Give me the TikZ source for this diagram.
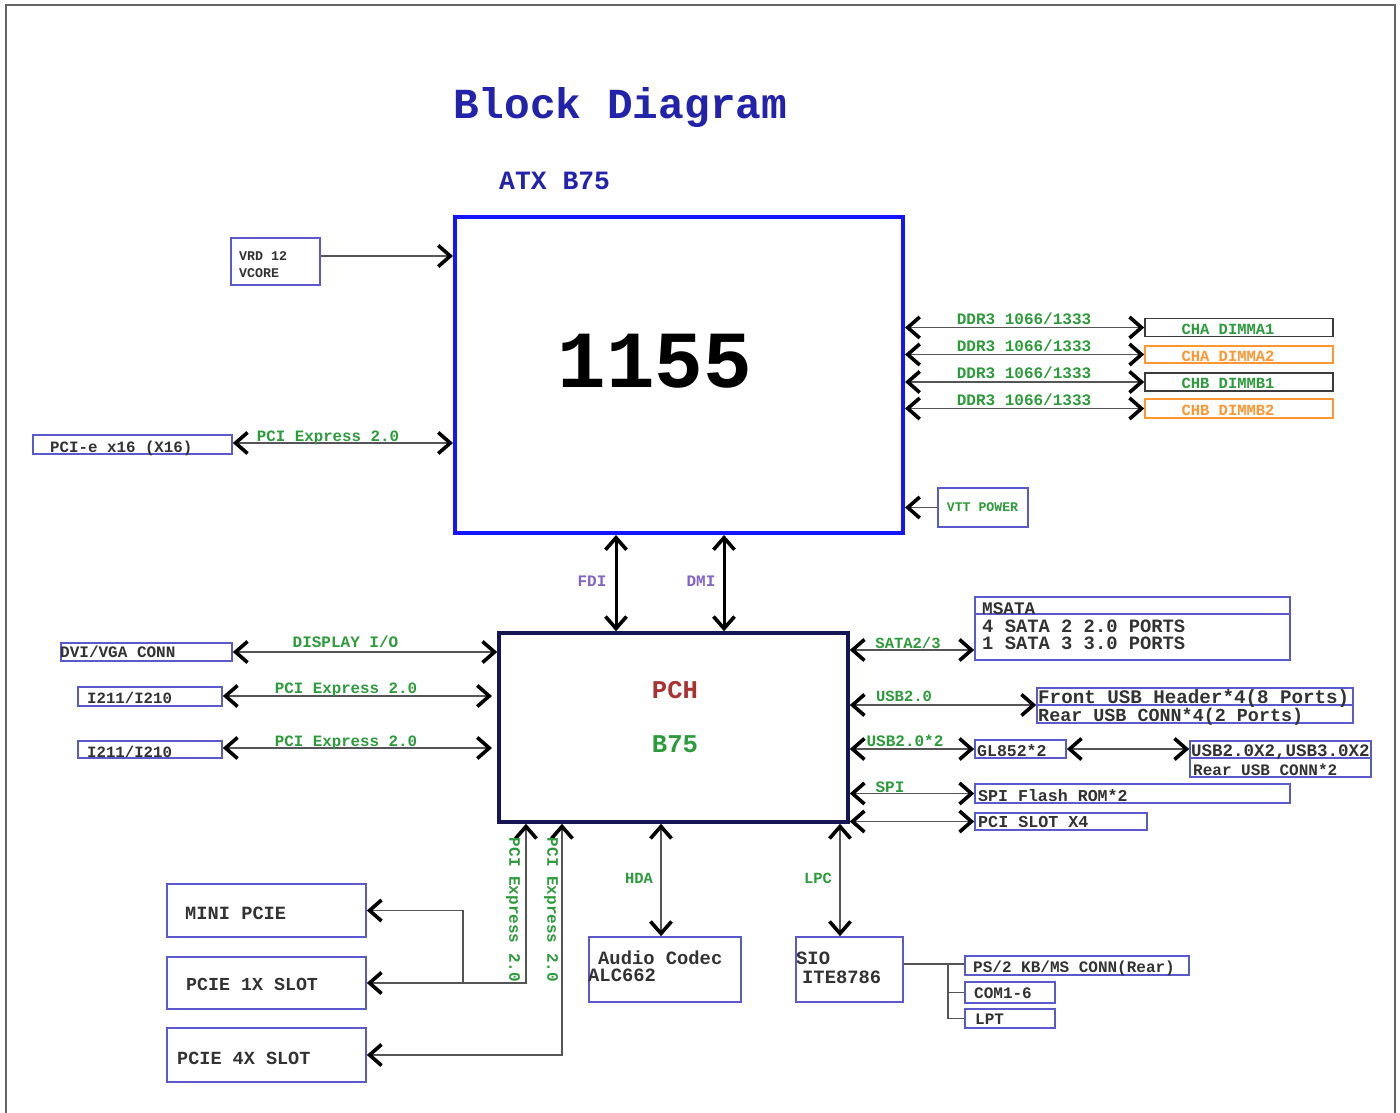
\documentclass[tikz,border=0pt]{standalone}
\usepackage{fontspec}
\setmainfont{Liberation Mono}
\setmonofont{Liberation Mono}
\usetikzlibrary{arrows.meta}
\definecolor{titleblue}{RGB}{34,34,170}
\definecolor{cpublue}{RGB}{20,20,255}
\definecolor{pchnavy}{RGB}{22,22,85}
\definecolor{boxblue}{RGB}{90,90,205}
\definecolor{dimmgray}{RGB}{60,60,60}
\definecolor{lblgreen}{RGB}{45,155,60}
\definecolor{dimorange}{RGB}{255,150,50}
\definecolor{lblpurple}{RGB}{130,100,200}
\definecolor{pchred}{RGB}{170,50,50}
\definecolor{darktext}{RGB}{50,50,50}
\definecolor{linegray}{RGB}{85,85,85}
\definecolor{framegray}{RGB}{100,100,100}
\tikzset{
  cb/.tip={Straight Barb[length=12pt,width=21pt,line width'=3.6pt,color=black]},
  bx/.style={draw=boxblue,line width=1.6pt,inner sep=0pt,rectangle},
  tx/.style={inner sep=0pt,font=\bfseries\fontsize{#1}{#1}\selectfont,text=darktext},
  gl/.style={inner sep=0pt,font=\bfseries\fontsize{#1}{#1}\selectfont,text=lblgreen},
  conn/.style={draw=linegray,line width=1.8pt},
  dbl/.style={conn,{cb}-{cb}},
  sgl/.style={conn,-{cb}},
  thk/.style={draw=black,line width=3pt,{cb}-{cb}},
  plain/.style={conn,line width=1.6pt},
  divl/.style={draw=boxblue,line width=1.4pt}
}
\begin{document}
\begin{tikzpicture}[x=1pt,y=-1pt]
\useasboundingbox (0,0) rectangle (1400,1113);
\fill[white] (0,0) rectangle (1400,1113);
\draw[framegray,line width=2pt] (6,1125) -- (6,5) -- (1395,5) -- (1395,1125);

% titles
\node[anchor=base west,inner sep=0pt,font=\bfseries\fontsize{42.8}{42.8}\selectfont,text=titleblue] (title) at (453,119) {Block Diagram};
\node[anchor=base west,inner sep=0pt,font=\bfseries\fontsize{26.4}{26.4}\selectfont,text=titleblue] (atx) at (499,189) {ATX B75};

% CPU
\node[rectangle,draw=cpublue,line width=4pt,inner sep=0pt,minimum width=448pt,minimum height=316pt] (cpu) at (679,375) {};
\node[anchor=base,inner sep=0pt,font=\bfseries\fontsize{81}{81}\selectfont,text=black] (cpunum) at (655,387) {1155};

% VRD
\node[bx,minimum width=89pt,minimum height=47pt] (vrd) at (275.5,261.5) {};
\node[tx=13.3,anchor=base west] (vrdt1) at (239,260) {VRD 12};
\node[tx=13.3,anchor=base west] (vrdt2) at (239,277) {VCORE};
\coordinate (yvrd) at (0,256);
\draw[sgl] (vrd.east |- yvrd) -- (cpu.west |- yvrd);

% PCI-e x16
\node[bx,minimum width=199pt,minimum height=19pt] (pcie16) at (132.5,444.5) {};
\node[tx=15.8,anchor=base west] (pcie16t) at (50,452) {PCI-e x16 (X16)};
\coordinate (y16) at (0,443);
\draw[dbl] (pcie16.east |- y16) -- (cpu.west |- y16);
\node[gl=15.8,anchor=base] (pcie16l) at (328,441) {PCI Express 2.0};

% DIMMs
\node[bx,draw=dimmgray,minimum width=188pt,minimum height=18pt] (dimm1) at (1239,327.5) {};
\node[bx,draw=dimorange,minimum width=188pt,minimum height=17pt] (dimm2) at (1239,354.5) {};
\node[bx,draw=dimmgray,minimum width=188pt,minimum height=18pt] (dimm3) at (1239,382) {};
\node[bx,draw=dimorange,minimum width=188pt,minimum height=19pt] (dimm4) at (1239,408.5) {};
\node[gl=15.5,anchor=base] (dimm1t) at (1228,334) {CHA DIMMA1};
\node[gl=15.5,anchor=base,text=dimorange] (dimm2t) at (1228,361) {CHA DIMMA2};
\node[gl=15.5,anchor=base] (dimm3t) at (1228,388) {CHB DIMMB1};
\node[gl=15.5,anchor=base,text=dimorange] (dimm4t) at (1228,415) {CHB DIMMB2};
\draw[dbl] (cpu.east |- dimm1.west) -- (dimm1.west);
\draw[dbl] (cpu.east |- dimm2.west) -- (dimm2.west);
\draw[dbl] (cpu.east |- dimm3.west) -- (dimm3.west);
\draw[dbl] (cpu.east |- dimm4.west) -- (dimm4.west);
\node[gl=16,anchor=base] (ddr1) at (1024,324) {DDR3 1066/1333};
\node[gl=16,anchor=base] (ddr2) at (1024,351) {DDR3 1066/1333};
\node[gl=16,anchor=base] (ddr3) at (1024,378) {DDR3 1066/1333};
\node[gl=16,anchor=base] (ddr4) at (1024,405) {DDR3 1066/1333};

% VTT
\node[bx,minimum width=90pt,minimum height=39pt] (vtt) at (983,507.5) {};
\node[gl=13.2,anchor=base] (vttt) at (982.5,511) {VTT POWER};
\draw[sgl] (vtt.west) -- (cpu.east |- vtt.west);

% PCH
\node[rectangle,draw=pchnavy,line width=3.5pt,inner sep=0pt,minimum width=349pt,minimum height=189pt] (pch) at (673.5,727.5) {};
\node[anchor=base,inner sep=0pt,font=\bfseries\fontsize{25.6}{25.6}\selectfont,text=pchred] (pcht) at (675,698) {PCH};
\node[anchor=base,inner sep=0pt,font=\bfseries\fontsize{25.6}{25.6}\selectfont,text=lblgreen] (b75t) at (675,752) {B75};

% FDI / DMI
\coordinate (xfdi) at (616,0);
\coordinate (xdmi) at (724,0);
\draw[thk] (xfdi |- cpu.south) -- (xfdi |- pch.north);
\draw[thk] (xdmi |- cpu.south) -- (xdmi |- pch.north);
\node[gl=16,anchor=base,text=lblpurple] (fdil) at (592,586) {FDI};
\node[gl=16,anchor=base,text=lblpurple] (dmil) at (701,586) {DMI};

% left of PCH
\node[bx,minimum width=171pt,minimum height=18pt] (dvi) at (146.5,652) {};
\node[tx=16,anchor=base west] (dvit) at (60,657) {DVI/VGA CONN};
\draw[dbl] (dvi.east) -- (pch.west |- dvi.east);
\node[gl=16,anchor=base] (displ) at (345.5,647) {DISPLAY I/O};

\node[bx,minimum width=144pt,minimum height=19pt] (i211a) at (150,696.5) {};
\node[tx=15.7,anchor=base west] (i211at) at (87,703) {I211/I210};
\coordinate (ia) at (492,696);
\draw[dbl] (i211a.east |- ia) -- (ia);
\node[gl=15.8,anchor=base] (pciea) at (346,693) {PCI Express 2.0};

\node[bx,minimum width=144pt,minimum height=17pt] (i211b) at (150,749.5) {};
\node[tx=15.7,anchor=base west] (i211bt) at (87,757) {I211/I210};
\coordinate (ib) at (492,748);
\draw[dbl] (i211b.east |- ib) -- (ib);
\node[gl=15.8,anchor=base] (pcieb) at (346,746) {PCI Express 2.0};

% right of PCH
\node[bx,minimum width=315pt,minimum height=63pt] (msata) at (1132.5,628.5) {};
\coordinate (ymsd) at (0,614);
\draw[divl] (msata.west |- ymsd) -- (msata.east |- ymsd);
\node[tx=17.7,anchor=base west] (msatat) at (982,614) {MSATA};
\node[tx=18.8,anchor=base west] (sata2t) at (982,632) {4 SATA 2 2.0 PORTS};
\node[tx=18.8,anchor=base west] (sata3t) at (982,649) {1 SATA 3 3.0 PORTS};
\coordinate (ysata) at (0,650);
\draw[dbl] (pch.east |- ysata) -- (msata.west |- ysata);
\node[gl=15.5,anchor=base] (satal) at (908,648) {SATA2/3};

\node[bx,minimum width=316pt,minimum height=35pt] (usb) at (1195,705.5) {};
\coordinate (yusd) at (0,705);
\draw[divl] (usb.west |- yusd) -- (usb.east |- yusd);
\node[tx=19.2,anchor=base west] (usbt1) at (1038,703) {Front USB Header*4(8 Ports)};
\node[tx=18.4,anchor=base west] (usbt2) at (1038,721) {Rear USB CONN*4(2 Ports)};
\draw[dbl] (pch.east |- yusd) -- (usb.west |- yusd);
\node[gl=15.5,anchor=base] (usbl) at (904,701) {USB2.0};

\node[bx,minimum width=91pt,minimum height=18pt] (glb) at (1020.5,749) {};
\node[tx=16.5,anchor=base west] (glt) at (977,756) {GL852*2};
\draw[dbl] (pch.east |- glb.west) -- (glb.west);
\node[gl=16,anchor=base] (usb2l) at (905,746) {USB2.0*2};

\node[bx,minimum width=181pt,minimum height=36pt] (usb3) at (1280.5,759) {};
\coordinate (yu3d) at (0,758);
\draw[divl] (usb3.west |- yu3d) -- (usb3.east |- yu3d);
\node[tx=17.5,anchor=base west] (usb3t1) at (1191,756) {USB2.0X2,USB3.0X2};
\node[tx=16,anchor=base west] (usb3t2) at (1193,775) {Rear USB CONN*2};
\draw[dbl] (glb.east) -- (usb3.west |- glb.east);

\node[bx,minimum width=315pt,minimum height=19pt] (spi) at (1132.5,793.5) {};
\node[tx=16.6,anchor=base west] (spit) at (978,801) {SPI Flash ROM*2};
\draw[dbl] (pch.east |- spi.west) -- (spi.west);
\node[gl=16,anchor=base] (spil) at (890,792) {SPI};

\node[bx,minimum width=172pt,minimum height=17pt] (pcis) at (1061,821.5) {};
\node[tx=16.7,anchor=base west] (pcist) at (978,827) {PCI SLOT X4};
\draw[dbl] (pch.east |- pcis.west) -- (pcis.west);

% bottom PCIe
\node[bx,minimum width=199pt,minimum height=53pt] (mini) at (266.5,910.5) {};
\node[tx=18.7,anchor=base west] (minit) at (185,919) {MINI PCIE};
\node[bx,minimum width=199pt,minimum height=52pt] (p1x) at (266.5,983) {};
\node[tx=18.3,anchor=base west] (p1xt) at (186,990) {PCIE 1X SLOT};
\node[bx,minimum width=199pt,minimum height=54pt] (p4x) at (266.5,1055) {};
\node[tx=18.5,anchor=base west] (p4xt) at (177,1064) {PCIE 4X SLOT};
\coordinate (xa) at (526,0);
\coordinate (xb) at (562,0);
\coordinate (xbr) at (463,0);
\draw[dbl] (xa |- pch.south) -- (xa |- p1x.east) -- (p1x.east);
\draw[sgl] (xbr |- p1x.east) -- (xbr |- mini.east) -- (mini.east);
\draw[dbl] (xb |- pch.south) -- (xb |- p4x.east) -- (p4x.east);
\node[gl=16,rotate=-90] (pcievl1) at (513,910) {PCI Express 2.0};
\node[gl=16,rotate=-90] (pcievl2) at (551,910) {PCI Express 2.0};

% audio / SIO
\node[bx,minimum width=152pt,minimum height=65pt] (audio) at (665,969.5) {};
\node[tx=18.8,anchor=base west] (audiot1) at (598,964) {Audio Codec};
\node[tx=18.8,anchor=base west] (audiot2) at (588,981) {ALC662};
\coordinate (xhda) at (661,0);
\draw[dbl] (xhda |- pch.south) -- (xhda |- audio.north);
\node[gl=15.5,anchor=base] (hdal) at (639,883) {HDA};

\node[bx,minimum width=107pt,minimum height=65pt] (sio) at (849.5,969.5) {};
\node[tx=18.8,anchor=base west] (siot1) at (796,964) {SIO};
\node[tx=18.8,anchor=base west] (siot2) at (802,983) {ITE8786};
\coordinate (xlpc) at (840,0);
\draw[dbl] (xlpc |- pch.south) -- (xlpc |- sio.north);
\node[gl=15.5,anchor=base] (lpcl) at (818,883) {LPC};

\node[bx,minimum width=224pt,minimum height=19pt] (ps2) at (1077,965.5) {};
\node[tx=16,anchor=base west] (ps2t) at (973,972) {PS/2 KB/MS CONN(Rear)};
\node[bx,minimum width=90pt,minimum height=21pt] (com) at (1010,992.5) {};
\node[tx=16,anchor=base west] (comt) at (974,998) {COM1-6};
\node[bx,minimum width=90pt,minimum height=19pt] (lpt) at (1010,1018.5) {};
\node[tx=16,anchor=base west] (lptt) at (975,1024) {LPT};
\coordinate (ysio) at (0,964);
\coordinate (xsb) at (948,0);
\draw[plain] (sio.east |- ysio) -- (ps2.west |- ysio);
\draw[plain] (xsb |- ysio) -- (xsb |- lpt.west) -- (lpt.west);
\draw[plain] (xsb |- com.west) -- (com.west);
\end{tikzpicture}
\end{document}
